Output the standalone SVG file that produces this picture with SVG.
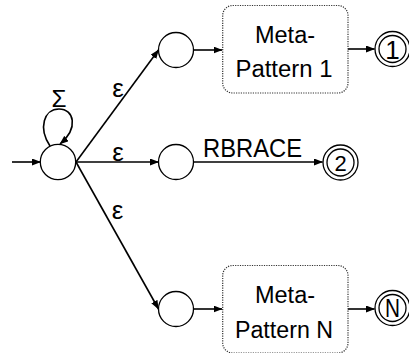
<svg xmlns="http://www.w3.org/2000/svg" width="409" height="353" viewBox="0 0 409 353">
<style>
.st{fill:#fff;stroke:#000;stroke-width:1.3}
.box{fill:#fff;stroke:#333;stroke-width:1.2;stroke-dasharray:1.2 1.2}
.e{fill:none;stroke:#000;stroke-width:1.6;marker-end:url(#ah)}
text{font-family:"Liberation Sans",Arial,sans-serif;fill:#000;text-anchor:middle}
.lbl{font-size:23.5px}
.eps{font-size:26px}
</style>
<defs>
<marker id="ah" markerUnits="userSpaceOnUse" markerWidth="9" markerHeight="7" refX="8.5" refY="3.5" orient="auto">
<path d="M0,0 L9,3.5 L0,7 z" fill="#000"/>
</marker>
</defs>
<g id="connectors">
<line class="e" x1="12" y1="162" x2="40.5" y2="162"/>
<path class="e" d="M50,146 C38,128 44,109 59,109 C74,109 79,128 60,144"/>
<line class="e" x1="76" y1="162" x2="158.5" y2="50"/>
<line class="e" x1="76" y1="162" x2="158.5" y2="162"/>
<line class="e" x1="76" y1="162" x2="158.5" y2="309"/>
<line class="e" x1="193.5" y1="50" x2="222" y2="50"/>
<line class="e" x1="348" y1="49" x2="374.5" y2="49"/>
<line class="e" x1="193.5" y1="162" x2="322.5" y2="162"/>
<line class="e" x1="193.5" y1="309" x2="222" y2="309"/>
<line class="e" x1="348" y1="309" x2="374.5" y2="309"/>
<text x="59" y="107" style="font-size:24px" textLength="15" lengthAdjust="spacingAndGlyphs">Σ</text>
<text class="eps" x="118" y="97">ε</text>
<text class="eps" x="118" y="161">ε</text>
<text class="eps" x="117.5" y="219">ε</text>
<text x="252.5" y="157" style="font-size:25px" textLength="99" lengthAdjust="spacingAndGlyphs">RBRACE</text>
</g>
<g id="start"><circle class="st" cx="58" cy="162" r="17.7"/></g>
<g id="q1"><circle class="st" cx="176" cy="50" r="17.5"/></g>
<g id="q2"><circle class="st" cx="176" cy="162" r="17.5"/></g>
<g id="q3"><circle class="st" cx="176" cy="309" r="17.5"/></g>
<g id="mp1">
<rect class="box" x="222.7" y="5.5" width="125.3" height="87.5" rx="10"/>
<text class="lbl" x="285" y="43">Meta-</text>
<text class="lbl" x="284" y="77.3" textLength="97" lengthAdjust="spacingAndGlyphs">Pattern 1</text>
</g>
<g id="mpN">
<rect class="box" x="222.7" y="265.5" width="125.3" height="87.5" rx="10"/>
<text class="lbl" x="285" y="303.3">Meta-</text>
<text class="lbl" x="284" y="338.3" textLength="98" lengthAdjust="spacingAndGlyphs">Pattern N</text>
</g>
<g id="f1">
<circle class="st" cx="392.5" cy="49" r="17.5"/>
<circle class="st" cx="392.5" cy="49" r="13.5"/>
<text x="392.5" y="58.5" style="font-size:26px">1</text>
</g>
<g id="f2">
<circle class="st" cx="340.5" cy="162.5" r="17.5"/>
<circle class="st" cx="340.5" cy="162.5" r="13.5"/>
<text x="340.5" y="170.5" style="font-size:22px">2</text>
</g>
<g id="fN">
<circle class="st" cx="392.5" cy="308" r="17.5"/>
<circle class="st" cx="392.5" cy="308" r="13.5"/>
<text x="392.5" y="317" style="font-size:25px" textLength="15" lengthAdjust="spacingAndGlyphs">N</text>
</g>
</svg>
